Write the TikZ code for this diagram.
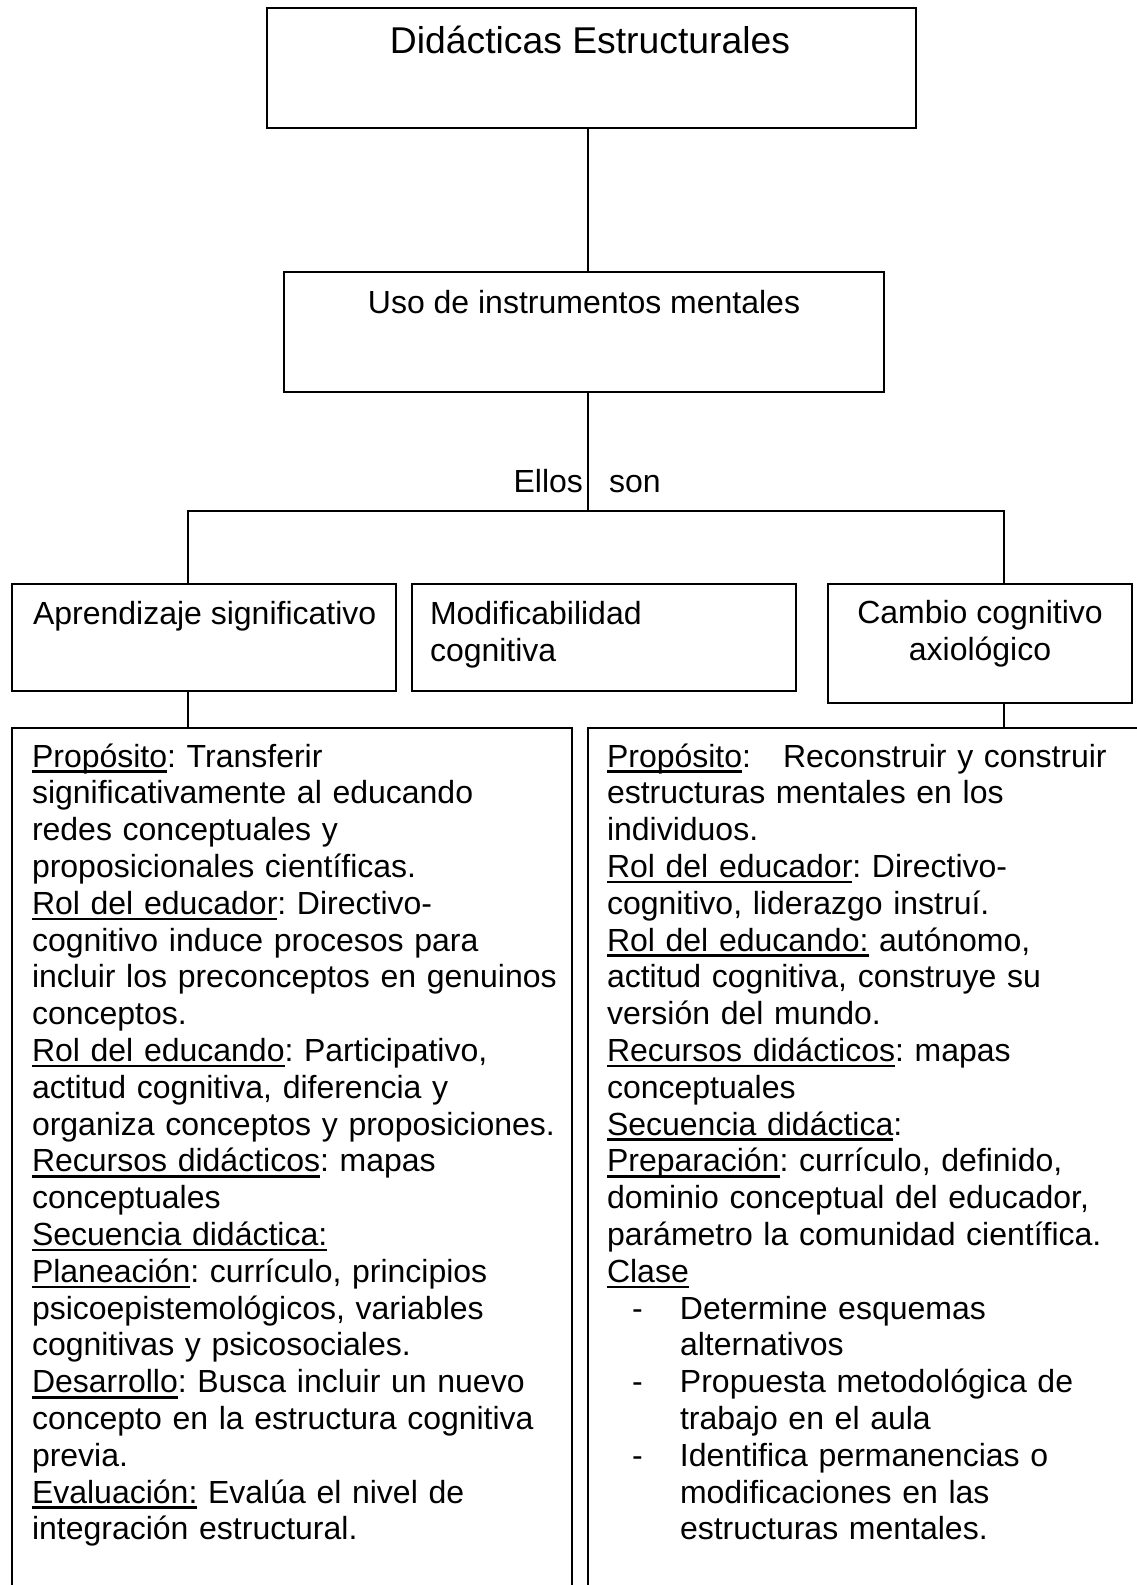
\documentclass[tikz,border=0pt]{standalone}
\usepackage{fontspec}
\setmainfont{Liberation Sans}
\frenchspacing
% underline at a fixed depth below the baseline, crossing descenders
\newcommand\ulin[1]{\leavevmode\setbox0=\hbox{#1}\rlap{\rule[-6pt]{\wd0}{2.6pt}}\box0\relax}

\begin{document}
\begin{tikzpicture}[x=1pt,y=-1pt,line width=2pt,
  box/.style={draw,rectangle,inner sep=0pt,outer sep=0pt},
  txt/.style={inner sep=0pt,outer sep=0pt,font=\fontsize{32pt}{36.8pt}\selectfont},
  bigtxt/.style={inner sep=0pt,outer sep=0pt,font=\fontsize{37.3pt}{43pt}\selectfont},
  col/.style={txt,anchor=base west,text width=600pt,align=left},
  link/.style={line width=2pt}]
\useasboundingbox (0,0) rectangle (1137,1585);

% boxes
\node[box,minimum width=649pt,minimum height=120pt] (top) at (591.5,68) {};
\node[box,minimum width=600pt,minimum height=120pt] (uso) at (584,332) {};
\node[box,minimum width=384pt,minimum height=107pt] (apr) at (204,637.5) {};
\node[box,minimum width=384pt,minimum height=107pt] (mod) at (604,637.5) {};
\node[box,minimum width=304pt,minimum height=119pt] (cam) at (980,643.5) {};

% box texts (two-line nodes are placed by the baseline of their last line)
\node[bigtxt,anchor=base] (ttop) at (590,53) {Didácticas Estructurales};
\node[txt,anchor=base] (tuso) at (584,313) {Uso de instrumentos mentales};
\node[txt,anchor=base west] (tapr) at (33,624) {Aprendizaje significativo};
\node[txt,anchor=base west,align=left] (tmod) at (430,661) {Modificabilidad\\cognitiva};
\node[txt,anchor=base,align=center] (tcam) at (980,660) {Cambio cognitivo\\axiológico};

% link labels
\node[txt,anchor=base east] (ellos) at (583,492) {Ellos};
\node[txt,anchor=base west] (son) at (609,492) {son};

% open boxes at the bottom
\coordinate (lbl) at (12,728);
\coordinate (lbr) at (572,728);
\coordinate (rbl) at (588,728);
\draw (12,1586) -- (lbl) -- (lbr) -- (572,1586);
\draw (588,1586) -- (rbl) -- (1138,728);
\coordinate (ltop) at (188,728);
\coordinate (rtop) at (1004,728);

% connectors
\coordinate (spine) at (588,0);
\coordinate (bar) at (0,511);
\draw[link] (top.south -| spine) -- (uso.north -| spine);
\draw[link] (uso.south -| spine) -- (bar -| spine);
\draw[link] (apr.north -| ltop) -- (bar -| ltop) -- (bar -| rtop) -- (cam.north -| rtop);
\draw[link] (apr.south -| ltop) -- (ltop);
\draw[link] (cam.south -| rtop) -- (rtop);

% left column
\node[col] (lcol) at (32,767) {%
\ulin{Propósito}: Transferir\\
significativamente al educando\\
redes conceptuales y\\
proposicionales científicas.\\
\ulin{Rol del educador}: Directivo-\\
cognitivo induce procesos para\\
incluir los preconceptos en genuinos\\
conceptos.\\
\ulin{Rol del educando}: Participativo,\\
actitud cognitiva, diferencia y\\
organiza conceptos y proposiciones.\\
\ulin{Recursos didácticos}: mapas\\
conceptuales\\
\ulin{Secuencia didáctica:}\\
\ulin{Planeación}: currículo, principios\\
psicoepistemológicos, variables\\
cognitivas y psicosociales.\\
\ulin{Desarrollo}: Busca incluir un nuevo\\
concepto en la estructura cognitiva\\
previa.\\
\ulin{Evaluación:} Evalúa el nivel de\\
integración estructural.};

% right column
\node[col] (rcol) at (607,767) {%
\ulin{Propósito}:~~~Reconstruir y construir\\
estructuras mentales en los\\
individuos.\\
\ulin{Rol del educador}: Directivo-\\
cognitivo, liderazgo instruí.\\
\ulin{Rol del educando:} autónomo,\\
actitud cognitiva, construye su\\
versión del mundo.\\
\ulin{Recursos didácticos}: mapas\\
conceptuales\\
\ulin{Secuencia didáctica}:\\
\ulin{Preparación}: currículo, definido,\\
dominio conceptual del educador,\\
parámetro la comunidad científica.\\
\ulin{Clase}\\
\hspace*{25pt}\makebox[48pt][l]{-}Determine esquemas\\
\hspace*{73pt}alternativos\\
\hspace*{25pt}\makebox[48pt][l]{-}Propuesta metodológica de\\
\hspace*{73pt}trabajo en el aula\\
\hspace*{25pt}\makebox[48pt][l]{-}Identifica permanencias o\\
\hspace*{73pt}modificaciones en las\\
\hspace*{73pt}estructuras mentales.};
\end{tikzpicture}
\end{document}
